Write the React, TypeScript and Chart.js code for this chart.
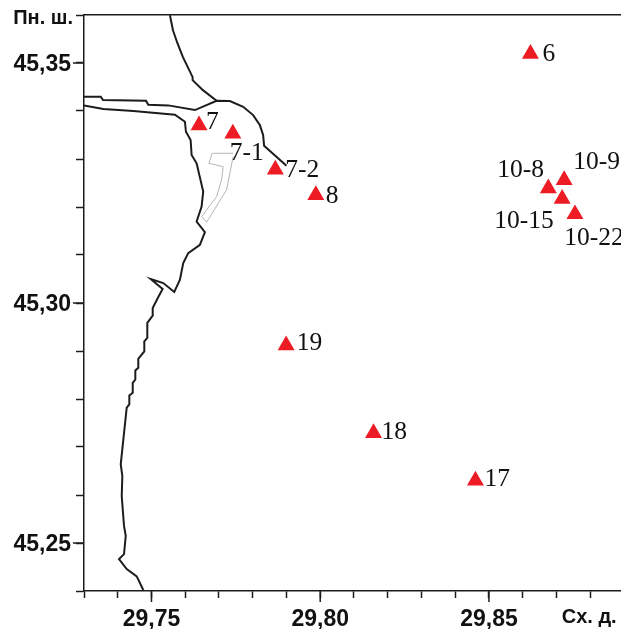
import React, { useEffect, useRef } from "react";
import { Chart, registerables } from "chart.js";

Chart.register(...registerables);

const stationNames = ["7", "7-1", "7-2", "8", "6", "10-8", "10-9", "10-15", "10-22", "19", "18", "17"];
const stationLon = [29.7641, 29.7741, 29.7867, 29.7987, 29.8623, 29.8676, 29.8723, 29.8717, 29.8755, 29.7899, 29.8158, 29.846];
const stationLat = [45.337, 45.3353, 45.3278, 45.3225, 45.3519, 45.3239, 45.3256, 45.3217, 45.3185, 45.2912, 45.2729, 45.263];

const northBankLon = [29.75547, 29.75636, 29.75769, 29.75932, 29.76219, 29.76219, 29.76524, 29.76929];
const northBankLat = [45.35994, 45.35682, 45.35412, 45.35121, 45.34705, 45.34642, 45.34435, 45.34212];

const harbourLon = [29.73, 29.73497, 29.73565, 29.74837, 29.74905, 29.75497, 29.76287, 29.76929, 29.77323, 29.77716, 29.78012, 29.7821, 29.78308, 29.78337, 29.79];
const harbourLat = [45.34295, 45.34295, 45.34227, 45.34212, 45.34129, 45.34117, 45.34019, 45.34212, 45.34206, 45.34087, 45.33915, 45.33707, 45.33499, 45.33277, 45.32861];

const coastLon = [29.73, 29.73574, 29.74462, 29.75695, 29.75991, 29.76021, 29.7616, 29.76189, 29.76337, 29.76533, 29.76485, 29.76337, 29.76583, 29.76435, 29.76089, 29.75941, 29.75843, 29.75675, 29.75349, 29.74976, 29.75331, 29.75201, 29.75036, 29.75036, 29.74876, 29.74876, 29.74787, 29.74787, 29.74609, 29.74609, 29.74521, 29.74521, 29.74444, 29.74444, 29.74343, 29.74343, 29.74266, 29.74166, 29.74089, 29.74136, 29.74118, 29.74186, 29.74237, 29.74186, 29.74038, 29.74266, 29.74562, 29.74757];
const coastLat = [45.34117, 45.3404, 45.33998, 45.33921, 45.33776, 45.33568, 45.33395, 45.33083, 45.32911, 45.3232, 45.32009, 45.31697, 45.31476, 45.31212, 45.3104, 45.30832, 45.30485, 45.30229, 45.30416, 45.30499, 45.30291, 45.30125, 45.29897, 45.29736, 45.29585, 45.29273, 45.29202, 45.28994, 45.28836, 45.28649, 45.28593, 45.28406, 45.28337, 45.28129, 45.28073, 45.27886, 45.27818, 45.27159, 45.26639, 45.26396, 45.2598, 45.25356, 45.25149, 45.24768, 45.24664, 45.24456, 45.24304, 45.2402];

const moleLon = [29.7742, 29.76799, 29.76701, 29.77124, 29.77077, 29.76929, 29.76485, 29.76633, 29.77225, 29.7742];
const moleLat = [45.33119, 45.33119, 45.32911, 45.3284, 45.32564, 45.32216, 45.31801, 45.31684, 45.32356, 45.33048];

const xTicks = [29.73, 29.74, 29.75, 29.76, 29.77, 29.78, 29.79, 29.8, 29.81, 29.82, 29.83, 29.84, 29.85, 29.86, 29.87, 29.88];
const xLabels = ["", "", "29,75", "", "", "", "", "29,80", "", "", "", "", "29,85", "", "", ""];
const yTicks = [45.24, 45.25, 45.26, 45.27, 45.28, 45.29, 45.3, 45.31, 45.32, 45.33, 45.34, 45.35, 45.36];
const yLabels = ["", "45,25", "", "", "", "", "45,30", "", "", "", "", "45,35", ""];
const yCaption = "Пн. ш.";
const xCaption = "Сх. д.";
const xCaptionAt = 29.88;

const labelDx = [7, -3, 10, 10, 12, -51, 9, -68, -10.7, 10.5, 8, 9];
const labelDy = [-3.5, 19.5, 0.5, 1, 0, -17.5, -17.5, 22, 24, -1.5, -0.5, -1.5];

const zip = (xs: number[], ys: number[]) => xs.map((x, i) => ({ x, y: ys[i] }));
const INK = "#1c1c1c";
const SANS = '"Liberation Sans", Arial, sans-serif';
const SERIF = '"Liberation Serif", "Times New Roman", serif';

const mapPlugin = {
  id: "mapExtras",
  afterDraw(chart: any) {
    const { ctx } = chart;
    const xs = chart.scales.x;
    const ys = chart.scales.y;
    const area = chart.chartArea;
    ctx.save();
    ctx.strokeStyle = INK;
    ctx.lineWidth = 1.5;
    // longer ticks at labelled values
    xTicks.forEach((v, i) => {
      if (xLabels[i]) {
        const p = xs.getPixelForValue(v);
        ctx.beginPath();
        ctx.moveTo(p, area.bottom);
        ctx.lineTo(p, area.bottom + 11);
        ctx.stroke();
      }
    });
    yTicks.forEach((v, i) => {
      if (yLabels[i]) {
        const p = ys.getPixelForValue(v);
        ctx.beginPath();
        ctx.moveTo(area.left, p);
        ctx.lineTo(area.left - 11, p);
        ctx.stroke();
      }
    });
    // axis captions
    ctx.fillStyle = "#111";
    ctx.font = `bold 20px ${SANS}`;
    ctx.textAlign = "right";
    ctx.textBaseline = "middle";
    ctx.fillText(yCaption, area.left - 11, area.top + 3);
    ctx.textAlign = "center";
    ctx.fillText(xCaption, xs.getPixelForValue(xCaptionAt) - 1, area.bottom + 26);
    // station labels
    const meta = chart.getDatasetMeta(0);
    ctx.font = `25.5px ${SERIF}`;
    ctx.textAlign = "left";
    ctx.fillStyle = "#111";
    stationNames.forEach((name, i) => {
      const pt = meta.data[i];
      ctx.fillText(name, pt.x + labelDx[i], pt.y + labelDy[i]);
    });
    ctx.restore();
  },
};

const noPad = (scale: any) => {
  scale.paddingTop = 0;
  scale.paddingBottom = 0;
  scale.paddingLeft = 0;
  scale.paddingRight = 0;
};

export default function App() {
  const ref = useRef<HTMLCanvasElement>(null);
  useEffect(() => {
    const line = (data: any[], color: string, width: number) => ({
      data,
      showLine: true,
      borderColor: color,
      borderWidth: width,
      pointRadius: 0,
      tension: 0,
      fill: false,
    });
    const chart = new Chart(ref.current as HTMLCanvasElement, {
      type: "scatter",
      data: {
        datasets: [
          {
            data: zip(stationLon, stationLat),
            pointStyle: "triangle",
            pointRadius: 9.8,
            backgroundColor: "#ed1c24",
            borderColor: "#ed1c24",
            borderWidth: 0,
            showLine: false,
          },
          line(zip(northBankLon, northBankLat), INK, 2),
          line(zip(harbourLon, harbourLat), INK, 2),
          line(zip(coastLon, coastLat), INK, 2),
          line(zip(moleLon, moleLat), "#b5b5b5", 1),
        ] as any,
      },
      plugins: [mapPlugin],
      options: {
        animation: false,
        responsive: false,
        events: [],
        layout: { padding: { top: 15, left: 0, right: 0, bottom: 0 } },
        plugins: { legend: { display: false }, tooltip: { enabled: false } },
        scales: {
          x: {
            type: "linear",
            min: 29.73,
            max: 29.8889,
            afterBuildTicks: (s: any) => {
              s.ticks = xTicks.map((value) => ({ value }));
            },
            afterFit: (s: any) => {
              s.height = 38;
              noPad(s);
            },
            grid: { drawOnChartArea: false, tickLength: 7, tickColor: INK, tickWidth: 1.5 },
            border: { color: INK, width: 1.5 },
            ticks: {
              autoSkip: false,
              maxRotation: 0,
              padding: 8,
              color: "#111",
              callback: (_v: any, i: number) => xLabels[i],
              font: { family: SANS, size: 23, weight: "bold" },
            },
          },
          xTop: {
            type: "linear",
            position: "top",
            min: 29.73,
            max: 29.8889,
            afterFit: (s: any) => {
              s.height = 0;
              noPad(s);
            },
            grid: { display: false },
            border: { color: INK, width: 1.5 },
            ticks: { display: false },
          },
          y: {
            type: "linear",
            min: 45.24,
            max: 45.36,
            afterBuildTicks: (s: any) => {
              s.ticks = yTicks.map((value) => ({ value }));
            },
            afterFit: (s: any) => {
              s.width = 84;
              noPad(s);
            },
            grid: { drawOnChartArea: false, tickLength: 8, tickColor: INK, tickWidth: 1.5 },
            border: { color: INK, width: 1.5 },
            ticks: {
              autoSkip: false,
              padding: 5,
              labelOffset: 2,
              color: "#111",
              callback: (_v: any, i: number) => yLabels[i],
              font: { family: SANS, size: 23, weight: "bold" },
            },
          },
        },
      } as any,
    });
    return () => chart.destroy();
  }, []);
  return (
    <div style={{ position: "fixed", left: 0, top: 0, width: 621, height: 629, overflow: "hidden", background: "#fff" }}>
      <canvas ref={ref} width={630} height={629} style={{ display: "block" }} />
    </div>
  );
}
